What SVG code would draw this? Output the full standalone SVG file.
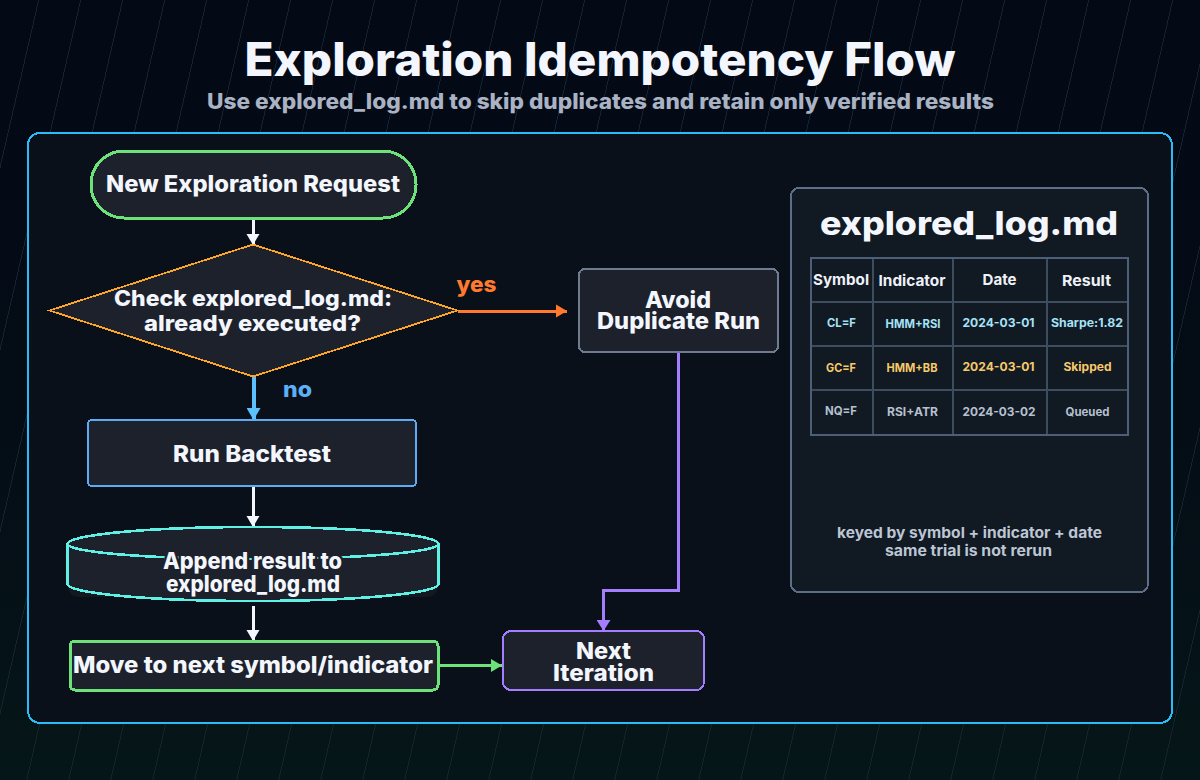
<svg xmlns="http://www.w3.org/2000/svg" width="1200" height="780" viewBox="0 0 1200 780">
<style>
text{font-family:Inter,"Noto Sans","Liberation Sans",sans-serif;font-weight:800;text-anchor:middle;fill:#f3f6fc}
.shape{shape-rendering:crispEdges}
.t{font-size:22.5px}
.h{font-size:15px;fill:#eef2f8;font-weight:700}
.c{font-size:11.5px;font-weight:700}
.r1{fill:#a5e3f7}.r2{fill:#f7c96a}.r3{fill:#b6c0ce}
.note{font-size:15px;fill:#bcc6d4;font-weight:700}
.grid{stroke:#152230;stroke-width:1;shape-rendering:crispEdges}
.cell{fill:none;stroke:#3e4c60;stroke-width:2;shape-rendering:crispEdges}
.conn{fill:none;shape-rendering:crispEdges}
</style>
<defs>
<linearGradient id="bg" x1="0" y1="0" x2="0" y2="1"><stop offset="0" stop-color="#030915"/><stop offset="0.5" stop-color="#040c16"/><stop offset="1" stop-color="#051618"/></linearGradient>
<marker id="aw" markerUnits="userSpaceOnUse" markerWidth="13" markerHeight="14" refX="11" refY="7" orient="auto"><path d="M0,0.5L11,7L0,13.5Z" fill="#f3f6fc"/></marker>
<marker id="ab" markerUnits="userSpaceOnUse" markerWidth="13" markerHeight="14" refX="12" refY="7" orient="auto"><path d="M0,0L12,7L0,14Z" fill="#5cc0ff"/></marker>
<marker id="ao" markerUnits="userSpaceOnUse" markerWidth="13" markerHeight="14" refX="11" refY="7" orient="auto"><path d="M0,0.5L11,7L0,13.5Z" fill="#ff7a2d"/></marker>
<marker id="ag" markerUnits="userSpaceOnUse" markerWidth="13" markerHeight="14" refX="11" refY="7" orient="auto"><path d="M0,0.5L11,7L0,13.5Z" fill="#6ee27a"/></marker>
<marker id="ap" markerUnits="userSpaceOnUse" markerWidth="13" markerHeight="14" refX="11" refY="7" orient="auto"><path d="M0,0L11,7L0,14Z" fill="#a57eff"/></marker>
</defs>
<rect width="1200" height="780" fill="url(#bg)"/>
<g id="background-lines" class="grid">
<path d="M-141.3,780L38.7,0M-99.3,780L80.7,0M-57.3,780L122.7,0M-15.3,780L164.7,0M26.7,780L206.7,0M68.7,780L248.7,0M110.7,780L290.7,0M152.7,780L332.7,0M194.7,780L374.7,0M236.7,780L416.7,0M278.7,780L458.7,0M320.7,780L500.7,0M362.7,780L542.7,0M404.7,780L584.7,0M446.7,780L626.7,0M488.7,780L668.7,0M530.7,780L710.7,0M572.7,780L752.7,0M614.7,780L794.7,0M656.7,780L836.7,0M698.7,780L878.7,0M740.7,780L920.7,0M782.7,780L962.7,0M824.7,780L1004.7,0M866.7,780L1046.7,0M908.7,780L1088.7,0M950.7,780L1130.7,0M992.7,780L1172.7,0M1034.7,780L1214.7,0M1076.7,780L1256.7,0M1118.7,780L1298.7,0M1160.7,780L1340.7,0"/>
</g>
<text x="600" y="76" font-size="46" textLength="711" lengthAdjust="spacingAndGlyphs">Exploration Idempotency Flow</text>
<text x="600.5" y="109" font-size="21" style="fill:#a9b3c4" textLength="787" lengthAdjust="spacingAndGlyphs">Use explored_log.md to skip duplicates and retain only verified results</text>
<rect id="panel" class="shape" x="28" y="133" width="1144" height="590" rx="12" fill="#0a101a" stroke="#2bbcf8" stroke-width="2"/>
<g id="connectors">
<path class="conn" d="M253,218V245" stroke="#f3f6fc" stroke-width="3" marker-end="url(#aw)"/>
<path class="conn" d="M253.5,377V420" stroke="#5cc0ff" stroke-width="4" marker-end="url(#ab)"/>
<path class="conn" d="M458,311H567" stroke="#ff7a2d" stroke-width="3" marker-end="url(#ao)"/>
<path class="conn" d="M253,487V527" stroke="#f3f6fc" stroke-width="3" marker-end="url(#aw)"/>
<path class="conn" d="M253,606V641" stroke="#f3f6fc" stroke-width="3" marker-end="url(#aw)"/>
<path class="conn" d="M438,665.5H502" stroke="#6ee27a" stroke-width="3" marker-end="url(#ag)"/>
<path class="conn" d="M678.5,352V590.5H603.5V631" stroke="#a57eff" stroke-width="3" marker-end="url(#ap)"/>
</g>
<g id="node-start"><rect class="shape" x="91" y="151" width="325" height="67" rx="33" fill="#1c212c" stroke="#6ee27a" stroke-width="3"/><text class="t" x="253" y="192" textLength="294" lengthAdjust="spacingAndGlyphs">New Exploration Request</text></g>
<g id="node-check"><polygon class="shape" points="49.5,310.5 253,244.5 457.5,310.5 253,376.5" fill="#1c212c" stroke="#ffa629" stroke-width="1.8"/><text x="253" y="306" font-size="22" textLength="278" lengthAdjust="spacingAndGlyphs">Check explored_log.md:</text><text x="252.5" y="331" font-size="22" textLength="217" lengthAdjust="spacingAndGlyphs">already executed?</text></g>
<text x="476.5" y="292" font-size="22" style="fill:#ff7a2d" textLength="40" lengthAdjust="spacingAndGlyphs">yes</text>
<text x="297.5" y="397" font-size="22" style="fill:#5cb0f6" textLength="29" lengthAdjust="spacingAndGlyphs">no</text>
<g id="node-avoid"><rect class="shape" x="579" y="269" width="199" height="83" rx="6" fill="#1c212c" stroke="#6e7c92" stroke-width="2"/><text class="t" x="678" y="308" textLength="66" lengthAdjust="spacingAndGlyphs">Avoid</text><text class="t" x="678.5" y="329" textLength="163" lengthAdjust="spacingAndGlyphs">Duplicate Run</text></g>
<g id="node-run"><rect class="shape" x="88" y="420" width="328" height="66" rx="4" fill="#1c212c" stroke="#5cacf5" stroke-width="2"/><text class="t" x="252" y="462" textLength="158" lengthAdjust="spacingAndGlyphs">Run Backtest</text></g>
<g id="node-append"><rect x="68" y="570" width="370" height="27" rx="10" fill="#14181f"/><path class="shape" d="M67.5,544A185.5,17 0 0 1 438.5,544V584A185.5,17 0 0 1 67.5,584Z" fill="#1c212c" stroke="#5ff0e6" stroke-width="2.6"/><path class="shape" d="M67.5,544A185.5,15 0 0 0 438.5,544" fill="none" stroke="#5ff0e6" stroke-width="2.6"/><text class="t" x="252.5" y="569" textLength="179" lengthAdjust="spacingAndGlyphs" style="stroke:#1c212c;stroke-width:5px;paint-order:stroke">Append result to</text><text class="t" x="253" y="592" textLength="174" lengthAdjust="spacingAndGlyphs">explored_log.md</text></g>
<g id="node-move"><rect class="shape" x="70" y="641" width="368" height="49" rx="5" fill="#1c212c" stroke="#6ee27a" stroke-width="3"/><text class="t" x="253" y="673" textLength="360" lengthAdjust="spacingAndGlyphs">Move to next symbol/indicator</text></g>
<g id="node-next"><rect class="shape" x="503" y="631" width="201" height="59" rx="8" fill="#1c212c" stroke="#a57eff" stroke-width="2"/><text class="t" x="603.5" y="659" textLength="55" lengthAdjust="spacingAndGlyphs">Next</text><text class="t" x="603.5" y="681" textLength="101" lengthAdjust="spacingAndGlyphs">Iteration</text></g>
<g id="node-log">
<rect class="shape" x="791" y="188" width="357" height="404" rx="8" fill="#111923" stroke="#5d6f88" stroke-width="2"/>
<text x="969" y="235" font-size="33" textLength="298" lengthAdjust="spacingAndGlyphs">explored_log.md</text>
<path class="cell" d="M873,258V435M953,258V435M1047,258V435M811,302H1128M811,346H1128M811,390H1128"/>
<rect class="cell" x="811" y="258" width="317" height="177" style="stroke:#4d5f78"/>
<text class="h" x="841" y="285" textLength="56" lengthAdjust="spacingAndGlyphs">Symbol</text>
<text class="h" x="912" y="286" textLength="67" lengthAdjust="spacingAndGlyphs">Indicator</text>
<text class="h" x="999.5" y="285" textLength="34" lengthAdjust="spacingAndGlyphs">Date</text>
<text class="h" x="1086.5" y="286" textLength="49" lengthAdjust="spacingAndGlyphs">Result</text>
<text class="c r1" x="841.5" y="327" textLength="29" lengthAdjust="spacingAndGlyphs">CL=F</text>
<text class="c r1" x="913" y="328" textLength="55" lengthAdjust="spacingAndGlyphs">HMM+RSI</text>
<text class="c r1" x="998.5" y="327" textLength="72" lengthAdjust="spacingAndGlyphs">2024-03-01</text>
<text class="c r1" x="1087" y="327" textLength="72" lengthAdjust="spacingAndGlyphs">Sharpe:1.82</text>
<text class="c r2" x="841" y="372" textLength="30" lengthAdjust="spacingAndGlyphs">GC=F</text>
<text class="c r2" x="912" y="372" textLength="51" lengthAdjust="spacingAndGlyphs">HMM+BB</text>
<text class="c r2" x="998.5" y="371" textLength="72" lengthAdjust="spacingAndGlyphs">2024-03-01</text>
<text class="c r2" x="1087.5" y="371" textLength="48" lengthAdjust="spacingAndGlyphs">Skipped</text>
<text class="c r3" x="841" y="415" textLength="32" lengthAdjust="spacingAndGlyphs">NQ=F</text>
<text class="c r3" x="912.5" y="416" textLength="51" lengthAdjust="spacingAndGlyphs">RSI+ATR</text>
<text class="c r3" x="999" y="416" textLength="73" lengthAdjust="spacingAndGlyphs">2024-03-02</text>
<text class="c r3" x="1087.5" y="416" textLength="44" lengthAdjust="spacingAndGlyphs">Queued</text>
<text class="note" x="969.5" y="538" textLength="265" lengthAdjust="spacingAndGlyphs">keyed by symbol + indicator + date</text>
<text class="note" x="968.5" y="556" textLength="167" lengthAdjust="spacingAndGlyphs">same trial is not rerun</text>
</g>
</svg>
